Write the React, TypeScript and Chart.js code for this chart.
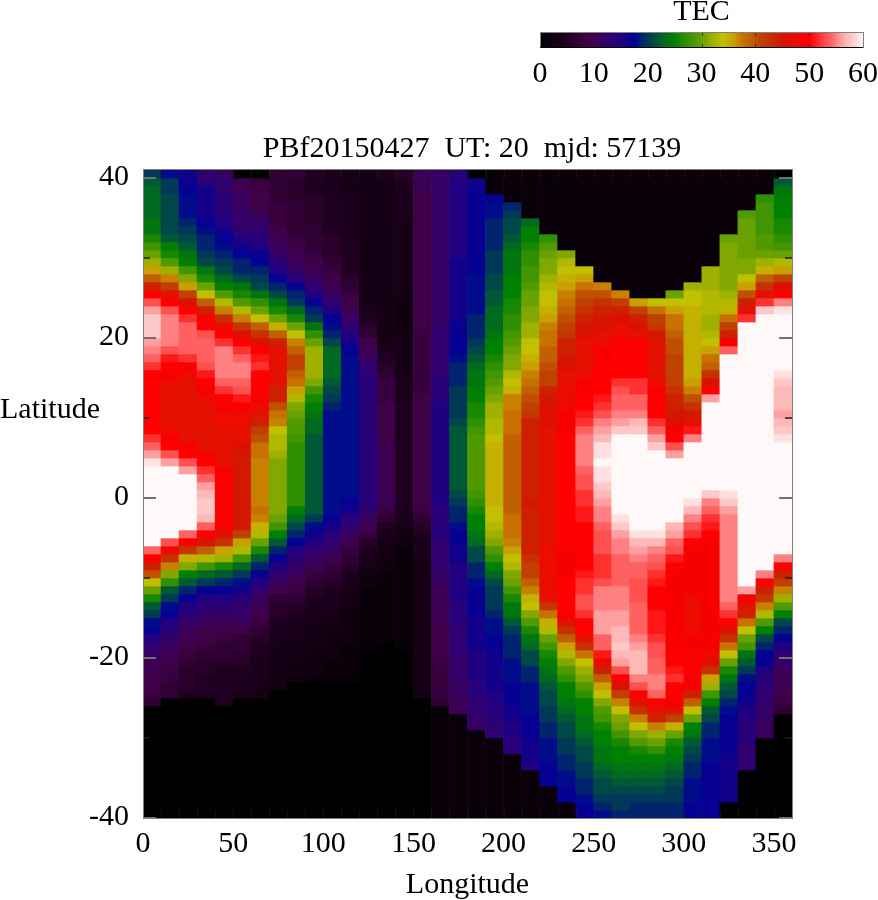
import React, { useEffect, useRef } from "react";
import { Chart, registerables } from "chart.js";

Chart.register(...registerables);

const titleText = "PBf20150427  UT: 20  mjd: 57139";
const yTickLabels = [40, 20, 0, -20, -40];
const rowCount = 81;
const longitudes = [5, 15, 25, 35, 45, 55, 65, 75, 85, 95, 105, 115, 125, 135, 145, 155, 165, 175, 185, 195, 205, 215, 225, 235, 245, 255, 265, 275, 285, 295, 305, 315, 325, 335, 345, 355];

const paletteValues = [0, 1, 5, 9, 13, 15, 17.5, 19.5, 21.5, 23, 25, 27, 29, 31, 32, 34, 36, 37, 38, 39, 40, 41, 43, 44, 46, 47.5, 49, 50, 52, 53, 54, 55, 56, 57, 58, 59, 60];
const paletteColors = ["#000000", "#0a000a", "#200020", "#400048", "#300070", "#200080", "#000098", "#003060", "#005040", "#006a20", "#008000", "#309000", "#509a00", "#80a800", "#a0b000", "#c0c000", "#c8a000", "#c88000", "#c87000", "#c06000", "#c05000", "#c04000", "#c83000", "#cc2000", "#dc1000", "#e81000", "#f80000", "#ff0000", "#ff3030", "#ff5050", "#ff6060", "#ff8080", "#ffa0a0", "#ffb8b8", "#ffc8c8", "#ffe0e0", "#fff8f8"];

// TEC by longitude column, from the top row (latitude 41..40) to the bottom row (-39..-40)
const lon000 = [20,22,23,23,23,23,24,24,26,28, 30,32,36,39,44,50,53,56,58,58, 58,56,55,54,52,50,50,50,50,50, 50,50,50,52,54,56,59,60,60,60, 60,60,60,60,60,60,60,54,50,44, 40,34,30,26,22,20,18,17,15,13, 12,10,10,9,9,8,7,0,0,0, 0,0,0,0,0,0,0,0,0,0,0];
const lon010 = [18,20,20,21,21,21,21,21,22,25, 26,29,32,37,41,47,50,53,55,55, 55,55,53,51,50,49,48,47,47,47, 47,47,48,49,50,53,56,60,60,60, 60,60,60,60,60,60,53,48,43,37, 31,27,22,20,18,17,15,14,12,11, 10,9,8,8,7,7,0,0,0,0, 0,0,0,0,0,0,0,0,0,0,0];
const lon020 = [16,17,17,18,18,18,19,20,21,22, 24,25,28,31,36,41,46,50,52,54, 54,54,54,52,49,48,47,47,47,47, 47,47,47,47,49,50,53,56,60,60, 60,60,60,60,60,54,49,42,35,31, 25,22,19,17,15,14,12,10,10,9, 8,7,6,6,6,5,0,0,0,0, 0,0,0,0,0,0,0,0,0,0,0];
const lon030 = [13,14,16,16,16,16,17,18,19,19, 20,21,24,26,30,34,39,44,49,50, 53,54,54,54,53,51,50,49,48,47, 47,47,47,47,47,49,50,52,54,56, 57,58,58,57,54,50,45,39,33,28, 23,20,17,15,14,12,11,9,9,8, 7,6,6,5,5,5,0,0,0,0, 0,0,0,0,0,0,0,0,0,0,0];
const lon040 = [11,13,13,14,14,14,15,16,17,18, 19,20,21,23,25,29,33,37,43,48, 50,52,55,55,55,55,54,52,50,49, 48,48,47,47,47,47,47,49,50,50, 50,50,50,50,49,46,43,36,32,26, 22,19,17,15,14,12,10,9,8,7, 7,6,5,5,5,5,5,0,0,0, 0,0,0,0,0,0,0,0,0,0,0];
const lon050 = [0,10,10,11,11,12,12,13,15,16, 17,19,19,21,24,26,29,33,37,42, 46,50,52,54,55,55,54,53,51,49, 48,48,47,47,46,45,45,45,45,45, 45,45,45,45,45,41,36,33,28,23, 20,18,16,14,13,12,11,9,7,7, 6,6,5,5,4,4,0,0,0,0, 0,0,0,0,0,0,0,0,0,0,0];
const lon060 = [0,8,9,9,9,10,12,13,14,15, 17,17,19,20,21,24,27,30,34,39, 43,46,50,51,52,50,50,50,49,48, 47,44,41,40,38,38,37,37,37,37, 37,37,38,37,35,33,30,26,22,19, 17,15,13,11,10,9,8,7,6,5, 5,4,4,4,3,3,0,0,0,0, 0,0,0,0,0,0,0,0,0,0,0];
const lon070 = [7,7,7,7,8,8,8,9,10,11, 12,14,15,17,19,21,24,26,30,35, 39,44,47,47,47,47,47,44,44,40, 38,37,34,33,33,32,31,31,31,31, 31,31,31,30,28,25,22,19,17,15, 13,11,9,7,6,6,5,4,4,3, 3,3,3,3,2,0,0,0,0,0, 0,0,0,0,0,0,0,0,0,0,0];
const lon080 = [7,6,6,6,7,7,7,7,8,9, 10,11,12,14,17,19,20,23,26,30, 34,37,39,41,41,39,38,36,33,31, 30,29,29,28,27,27,27,27,27,27, 27,27,25,23,21,19,17,15,14,12, 11,9,8,7,6,5,4,4,3,3, 3,2,2,2,0,0,0,0,0,0, 0,0,0,0,0,0,0,0,0,0,0];
const lon090 = [5,5,5,6,6,6,6,7,7,7, 8,9,10,11,13,15,17,19,20,24, 27,30,32,32,32,32,31,28,26,25, 24,23,23,22,22,22,22,22,22,22, 22,22,22,20,18,16,15,13,11,10, 8,7,6,5,4,4,3,3,3,2, 2,2,2,1,0,0,0,0,0,0, 0,0,0,0,0,0,0,0,0,0,0];
const lon100 = [4,4,4,5,5,5,5,5,6,6, 6,7,8,9,10,11,13,15,17,18, 19,21,23,23,23,23,22,21,20,19, 18,18,18,18,18,18,18,18,18,18, 18,18,18,17,16,14,13,11,10,8, 7,6,5,4,4,3,3,2,2,2, 2,1,1,1,0,0,0,0,0,0, 0,0,0,0,0,0,0,0,0,0,0];
const lon110 = [3,3,3,4,4,4,4,4,4,5, 5,5,5,6,7,8,9,10,12,13, 15,16,17,18,18,18,18,18,18,18, 18,18,18,18,18,18,18,18,18,18, 18,17,16,14,13,11,10,8,7,6, 5,4,3,3,2,2,2,2,2,1, 1,1,1,1,0,0,0,0,0,0, 0,0,0,0,0,0,0,0,0,0,0];
const lon120 = [3,3,3,3,3,3,3,3,3,3, 3,3,3,3,3,3,3,4,5,6, 7,9,10,11,13,13,14,14,14,14, 14,14,14,14,14,14,14,14,14,14, 14,14,13,11,10,8,6,5,4,3, 2,2,1,1,1,1,1,1,1,1, 0,0,0,0,0,0,0,0,0,0, 0,0,0,0,0,0,0,0,0,0,0];
const lon130 = [4,3,3,3,3,3,3,3,3,3, 3,3,3,3,3,3,3,3,3,3, 3,3,4,5,6,7,8,8,8,9, 9,9,9,9,10,10,10,10,10,10, 10,10,8,7,5,4,3,3,2,2, 1,1,1,1,1,1,1,1,1,0, 0,0,0,0,0,0,0,0,0,0, 0,0,0,0,0,0,0,0,0,0,0];
const lon140 = [6,5,4,4,4,4,3,3,3,3, 3,3,3,3,3,3,2,2,2,2, 3,3,3,3,3,3,4,4,4,5, 5,5,5,5,5,5,5,5,5,5, 5,5,4,4,3,2,2,1,1,1, 1,1,1,1,1,1,1,1,1,1, 0,0,0,0,0,0,0,0,0,0, 0,0,0,0,0,0,0,0,0,0,0];
const lon150 = [11,10,10,9,9,9,9,9,9,9, 9,9,9,9,9,9,9,9,9,9, 8,8,8,8,8,8,8,8,9,9, 9,9,9,9,9,9,9,9,9,9, 9,9,8,7,6,5,4,4,3,3, 3,3,3,3,3,3,3,3,3,3, 3,3,3,3,3,3,0,0,0,0, 0,0,0,0,0,0,0,0,0,0,0];
const lon160 = [12,12,12,12,12,12,12,12,12,12, 12,12,12,12,12,12,12,12,12,12, 13,13,13,13,13,13,14,14,14,15, 15,15,15,15,15,15,15,15,15,15, 15,15,14,14,14,14,13,13,13,13, 12,11,10,10,10,10,10,9,9,9, 9,8,8,8,8,8,7,1,1,1, 1,1,1,1,1,1,1,1,1,1,1];
const lon170 = [14,15,15,15,15,15,15,15,15,15, 15,16,16,16,16,16,16,16,16,17, 17,17,17,18,19,19,19,20,20,20, 20,21,22,22,22,22,22,22,22,22, 21,20,19,19,18,17,17,16,16,15, 15,15,15,15,14,14,14,13,13,13, 13,12,12,12,11,11,10,10,1,1, 1,1,1,1,1,1,1,1,1,1,1];
const lon180 = [0,16,17,17,17,17,17,17,17,17, 17,17,17,18,18,18,18,18,19,19, 19,20,21,22,23,24,24,25,25,26, 26,27,28,29,29,29,29,29,29,29, 28,27,26,25,25,24,23,21,21,19, 19,18,17,17,17,17,16,16,16,16, 15,15,15,15,14,14,13,13,12,12, 1,1,1,1,1,1,1,1,1,1,1];
const lon190 = [1,1,1,17,18,18,19,19,19,19, 20,20,20,21,21,22,22,23,23,23, 24,25,25,26,27,28,29,30,31,32, 32,33,33,34,35,35,35,35,35,35, 35,35,34,34,33,32,31,29,27,25, 23,21,20,20,20,19,18,18,17,17, 16,16,16,16,16,15,15,14,14,13, 13,1,1,1,1,1,1,1,1,1,1];
const lon200 = [1,1,1,1,19,20,21,21,22,23, 24,24,24,25,25,25,26,26,27,27, 28,29,30,31,31,33,34,35,37,37, 38,38,38,39,39,39,39,39,39,39, 39,39,39,38,38,38,37,36,34,33, 31,30,28,26,24,24,22,20,19,19, 19,18,18,18,17,17,17,16,16,15, 15,14,14,1,1,1,1,1,1,1,1];
const lon210 = [1,1,1,1,1,1,23,25,25,26, 27,27,28,28,29,30,30,31,31,32, 32,34,34,35,36,37,38,39,40,41, 42,44,44,44,44,44,44,44,44,44, 44,45,44,44,44,44,44,44,43,41, 41,39,37,35,34,31,29,26,24,23, 21,21,19,19,18,18,18,18,17,17, 17,16,16,16,15,1,1,1,1,1,1];
const lon220 = [1,1,1,1,1,1,1,1,27,29, 30,31,31,32,33,34,34,35,36,37, 38,38,39,39,40,41,41,44,45,46, 46,46,47,47,47,47,47,47,47,47, 47,47,47,47,47,47,47,48,48,48, 48,48,48,47,42,38,35,33,30,28, 26,25,24,23,22,21,21,20,20,19, 19,18,18,18,17,17,17,1,1,1,1];
const lon230 = [1,1,1,1,1,1,1,1,1,1, 31,33,34,35,36,37,38,39,40,41, 42,44,44,45,46,47,47,48,48,48, 49,49,49,50,50,50,50,50,50,50, 50,50,50,50,50,50,50,49,49,49, 49,50,50,50,50,49,47,43,39,36, 33,31,29,27,25,25,24,23,22,21, 21,20,20,19,19,18,18,17,17,1,1];
const lon240 = [1,1,1,1,1,1,1,1,1,1, 1,1,34,36,38,40,41,43,44,45, 46,47,47,47,47,48,49,49,50,50, 51,52,54,55,55,55,55,54,53,53, 52,52,51,51,50,50,50,50,50,50, 51,52,52,53,53,52,50,50,47,43, 38,34,32,31,29,27,25,25,24,24, 23,22,21,21,20,20,19,19,18,17,17];
const lon250 = [1,1,1,1,1,1,1,1,1,1, 1,1,1,1,37,40,43,44,45,46, 47,48,49,49,50,50,50,50,51,52, 53,55,56,57,59,59,60,59,59,58, 57,56,55,55,54,53,53,53,52,52, 52,53,55,55,55,56,56,56,54,54, 51,48,44,39,36,34,31,29,28,26, 25,25,24,24,23,22,21,21,20,19,18];
const lon260 = [1,1,1,1,1,1,1,1,1,1, 1,1,1,1,1,37,41,44,46,47, 48,50,50,50,50,50,52,53,54,54, 55,56,58,60,60,60,60,60,60,60, 60,60,60,59,58,56,55,55,54,54, 54,54,55,55,55,56,56,57,57,58, 57,56,53,50,46,41,37,34,31,30, 28,26,25,25,24,23,22,21,20,20,19];
const lon270 = [1,1,1,1,1,1,1,1,1,1, 1,1,1,1,1,1,36,41,44,46, 47,50,50,50,50,50,52,52,54,54, 55,57,58,60,60,60,60,60,60,60, 60,60,60,60,60,59,57,56,55,54, 54,53,53,53,54,54,54,54,55,56, 57,57,57,55,53,50,47,43,37,34, 31,29,26,25,24,23,22,21,20,19,19];
const lon280 = [1,1,1,1,1,1,1,1,1,1, 1,1,1,1,1,1,34,38,41,42, 45,47,47,47,47,47,48,49,50,50, 50,52,54,56,58,60,60,60,60,60, 60,60,60,60,60,59,57,55,54,53, 52,51,50,50,50,51,51,51,52,53, 53,54,54,55,55,54,50,47,44,37, 32,30,27,25,24,23,22,21,20,19,19];
const lon290 = [1,1,1,1,1,1,1,1,1,1, 1,1,1,1,1,30,34,36,38,38, 39,40,40,41,41,41,41,43,44,44, 45,46,49,50,53,56,60,60,60,60, 60,60,60,60,57,56,54,53,51,50, 49,49,49,49,49,49,49,49,49,49, 50,50,51,52,50,50,49,47,41,35, 30,26,25,24,23,22,21,20,20,19,19];
const lon300 = [1,1,1,1,1,1,1,1,1,1, 1,1,1,1,32,34,34,35,35,35, 35,35,35,35,35,35,36,37,40,43, 45,47,51,55,60,60,60,60,60,60, 60,59,57,55,53,52,50,49,49,49, 49,49,49,48,48,48,48,48,49,49, 50,50,50,49,49,44,39,34,30,25, 24,22,21,20,19,19,18,18,18,17,17];
const lon310 = [1,1,1,1,1,1,1,1,1,1, 1,1,32,32,32,33,33,33,32,32, 33,34,36,38,39,43,46,50,56,60, 60,60,60,60,60,60,60,60,60,60, 58,55,54,52,51,50,49,49,49,49, 49,49,49,49,49,49,49,49,49,49, 48,46,43,36,32,28,25,22,21,19, 19,18,18,18,17,17,17,17,17,17,17];
const lon320 = [1,1,1,1,1,1,1,1,30,31, 31,31,31,31,31,32,33,35,38,41, 44,49,54,60,60,60,60,60,60,60, 60,60,60,60,60,60,60,60,60,60, 59,58,56,55,55,55,55,55,55,55, 55,55,55,55,54,52,50,46,43,38, 34,30,26,24,22,21,19,18,17,17, 17,17,17,16,16,16,16,16,16,0,0];
const lon330 = [1,1,1,1,1,29,30,30,30,30, 30,31,31,34,36,40,44,47,52,60, 60,60,60,60,60,60,60,60,60,60, 60,60,60,60,60,60,60,60,60,60, 60,60,60,60,60,60,60,60,60,60, 60,60,56,49,47,44,38,34,30,28, 24,22,20,18,17,17,16,15,15,14, 14,14,13,13,13,0,0,0,0,0,0];
const lon340 = [1,1,1,27,28,28,28,28,29,29, 30,32,35,39,43,47,52,58,60,60, 60,60,60,60,60,60,60,60,60,60, 60,60,60,60,60,60,60,60,60,60, 60,60,60,60,60,60,60,60,60,60, 55,50,44,42,37,33,29,25,21,19, 17,17,15,14,14,13,13,12,12,11, 11,0,0,0,0,0,0,0,0,0,0];
const lon350 = [0,22,24,25,25,25,26,26,27,28, 30,33,36,41,46,50,55,59,60,60, 60,60,60,60,60,59,58,57,57,57, 56,57,58,59,60,60,60,60,60,60, 60,60,60,60,60,60,60,60,55,50, 44,41,37,32,29,25,21,19,17,15, 13,12,11,10,10,9,8,7,0,0, 0,0,0,0,0,0,0,0,0,0,0];

const columns = [lon000, lon010, lon020, lon030, lon040, lon050, lon060, lon070, lon080, lon090, lon100, lon110, lon120, lon130, lon140, lon150, lon160, lon170, lon180, lon190, lon200, lon210, lon220, lon230, lon240, lon250, lon260, lon270, lon280, lon290, lon300, lon310, lon320, lon330, lon340, lon350];

const FONT = '"Liberation Serif", "Times New Roman", serif';
const FONT_SIZE = 30;

function hexToRgb(hex: string) {
  return [1, 3, 5].map((i) => parseInt(hex.slice(i, i + 2), 16));
}

function tecColor(v: number) {
  const t = Math.max(0, Math.min(60, v));
  let i = 0;
  while (i < paletteValues.length - 2 && t > paletteValues[i + 1]) i++;
  const f = (t - paletteValues[i]) / (paletteValues[i + 1] - paletteValues[i]);
  const a = hexToRgb(paletteColors[i]);
  const b = hexToRgb(paletteColors[i + 1]);
  const c = a.map((x, k) => Math.round(x + (b[k] - x) * f));
  return `rgb(${c[0]},${c[1]},${c[2]})`;
}

const mapPlugin = {
  id: "mapDecor",
  afterDatasetsDraw(chart: any) {
    const { ctx, chartArea: a, scales } = chart;
    const x = scales.x;
    const y = scales.y;
    ctx.save();
    ctx.lineWidth = 1;
    ctx.strokeStyle = "rgba(30,30,30,0.65)";
    for (const t of x.ticks) {
      const px = Math.round(x.getPixelForValue(t.value)) + 0.5;
      ctx.beginPath();
      ctx.moveTo(px, a.top);
      ctx.lineTo(px, a.top + 8);
      ctx.moveTo(px, a.bottom);
      ctx.lineTo(px, a.bottom - 8);
      ctx.stroke();
    }
    for (const t of y.ticks) {
      const major = t.value % 20 === 0;
      const len = major ? 13 : 7;
      const py = Math.round(y.getPixelForValue(t.value));
      ctx.strokeStyle = major ? "#707070" : "rgba(30,30,30,0.75)";
      ctx.lineWidth = 2;
      ctx.beginPath();
      ctx.moveTo(a.left, py);
      ctx.lineTo(a.left + len, py);
      ctx.moveTo(a.right, py);
      ctx.lineTo(a.right - len, py);
      ctx.stroke();
    }
    ctx.lineWidth = 1;
    ctx.strokeStyle = "#808080";
    ctx.strokeRect(a.left + 0.5, a.top - 0.5, a.right - a.left, a.bottom - a.top + 1);
    ctx.fillStyle = "#000";
    ctx.font = `${FONT_SIZE}px ${FONT}`;
    ctx.textBaseline = "middle";
    ctx.textAlign = "center";
    ctx.fillText(titleText, 472, 149);
    ctx.textAlign = "left";
    ctx.fillText("Latitude", 0, 410);
    ctx.textAlign = "right";
    for (const v of yTickLabels) {
      ctx.fillText(String(v), 129, y.getPixelForValue(v) - 1);
    }
    ctx.restore();
  },
};

const barPlugin = {
  id: "barDecor",
  afterDatasetsDraw(chart: any) {
    const { ctx, chartArea: a } = chart;
    const x = chart.scales.x;
    ctx.save();
    ctx.strokeStyle = "rgba(30,30,30,0.7)";
    ctx.lineWidth = 1;
    for (const t of x.ticks) {
      const px = Math.round(x.getPixelForValue(t.value)) + 0.5;
      ctx.beginPath();
      ctx.moveTo(px, a.bottom);
      ctx.lineTo(px, a.bottom - 3);
      ctx.moveTo(px, a.top);
      ctx.lineTo(px, a.top + 3);
      ctx.stroke();
    }
    ctx.strokeStyle = "#808080";
    ctx.strokeRect(a.left + 0.5, a.top - 0.5, a.right - a.left, a.bottom - a.top + 1);
    ctx.strokeStyle = "#000";
    ctx.beginPath();
    ctx.moveTo(a.left, a.bottom + 0.5);
    ctx.lineTo(a.right, a.bottom + 0.5);
    ctx.stroke();
    ctx.restore();
  },
};

export default function App() {
  const mapRef = useRef<HTMLCanvasElement>(null);
  const barRef = useRef<HTMLCanvasElement>(null);

  useEffect(() => {
    const rows = Array.from({ length: rowCount }, (_, r) => r);
    const map = new Chart(mapRef.current as HTMLCanvasElement, {
      type: "bar",
      data: {
        datasets: rows.map((r) => ({
          label: `row ${r}`,
          data: longitudes.map((lon) => ({ x: lon, y: [41 - r, 40 - r] })) as any,
          backgroundColor: columns.map((col) => tecColor(col[r])),
          borderWidth: 0,
          grouped: false,
          barPercentage: 1,
          categoryPercentage: 1,
        })),
      },
      options: {
        responsive: false,
        animation: false,
        layout: { padding: { top: 170, right: 86, left: 0, bottom: 0 } },
        plugins: { legend: { display: false }, title: { display: false }, tooltip: { enabled: false } },
        scales: {
          x: {
            type: "linear",
            offset: false,
            min: 0,
            max: 360,
            grid: { display: false, drawTicks: false },
            border: { display: false },
            ticks: {
              stepSize: 10,
              autoSkip: false,
              maxRotation: 0,
              padding: 8,
              color: "#000",
              font: { family: FONT, size: FONT_SIZE },
              callback: (v: any) => (v % 50 === 0 ? String(v) : ""),
            },
            title: {
              display: true,
              text: "Longitude",
              color: "#000",
              font: { family: FONT, size: FONT_SIZE },
              padding: { top: 0, bottom: -3 },
            },
            afterFit: (s: any) => {
              s.height = 82;
              s.paddingLeft = 0;
              s.paddingRight = 0;
            },
          },
          y: {
            type: "linear",
            min: -40,
            max: 41,
            grid: { display: false, drawTicks: false },
            border: { display: false },
            ticks: { stepSize: 10, autoSkip: false, display: false, includeBounds: false },
            afterFit: (s: any) => {
              s.width = 143;
            },
          },
        },
      } as any,
      plugins: [mapPlugin],
    } as any);

    const bar = new Chart(barRef.current as HTMLCanvasElement, {
      type: "bar",
      data: {
        labels: ["TEC"],
        datasets: [
          {
            data: [[0, 60]] as any,
            borderWidth: 0,
            barPercentage: 1,
            categoryPercentage: 1,
            backgroundColor: (c: any) => {
              const area = c.chart.chartArea;
              if (!area) return "#000";
              const g = c.chart.ctx.createLinearGradient(area.left, 0, area.right, 0);
              paletteValues.forEach((v, i) => g.addColorStop(v / 60, paletteColors[i]));
              return g;
            },
          },
        ],
      },
      options: {
        indexAxis: "y",
        responsive: false,
        animation: false,
        layout: { padding: { top: 33, right: 15, left: 0, bottom: 0 } },
        plugins: { legend: { display: false }, title: { display: false }, tooltip: { enabled: false } },
        scales: {
          x: {
            type: "linear",
            offset: false,
            min: 0,
            max: 60,
            grid: { display: false, drawTicks: false },
            border: { display: false },
            ticks: {
              stepSize: 10,
              maxRotation: 0,
              padding: 9,
              color: "#000",
              font: { family: FONT, size: FONT_SIZE },
            },
            afterFit: (s: any) => {
              s.height = 53;
              s.paddingLeft = 0;
              s.paddingRight = 0;
            },
          },
          y: {
            type: "category",
            grid: { display: false, drawTicks: false },
            border: { display: false },
            ticks: { display: false },
            afterFit: (s: any) => {
              s.width = 40;
            },
          },
        },
      } as any,
      plugins: [
        barPlugin,
        {
          id: "barTitle",
          afterDraw(chart: any) {
            const { ctx, chartArea: a } = chart;
            ctx.save();
            ctx.fillStyle = "#000";
            ctx.font = `${FONT_SIZE}px ${FONT}`;
            ctx.textAlign = "center";
            ctx.textBaseline = "middle";
            ctx.fillText("TEC", (a.left + a.right) / 2, 12);
            ctx.restore();
          },
        },
      ],
    } as any);

    return () => {
      map.destroy();
      bar.destroy();
    };
  }, []);

  return (
    <div style={{ position: "fixed", left: 0, top: 0, width: 878, height: 900, background: "#fff", overflow: "hidden" }}>
      <canvas ref={mapRef} width={878} height={900} style={{ position: "absolute", left: 0, top: 0, display: "block" }} />
      <canvas ref={barRef} width={378} height={100} style={{ position: "absolute", left: 500, top: 0, display: "block" }} />
    </div>
  );
}
